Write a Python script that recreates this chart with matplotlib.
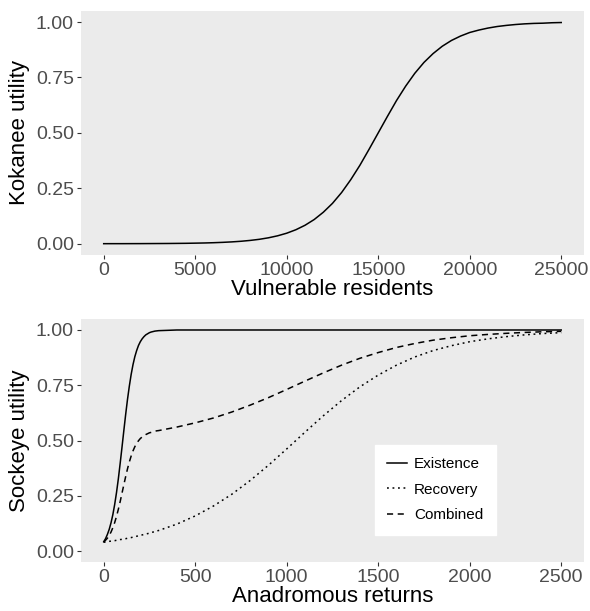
import matplotlib
matplotlib.use("Agg")
import matplotlib.pyplot as plt

plt.rcParams['font.family'] = ['Liberation Sans', 'DejaVu Sans']

# top panel: kokanee utility vs vulnerable residents
residents = [0, 500, 1000, 1500, 2000, 2500, 3000, 3500, 4000, 4500,
             5000, 5500, 6000, 6500, 7000, 7500, 8000, 8500, 9000, 9500,
             10000, 10500, 11000, 11500, 12000, 12500, 13000, 13500, 14000, 14500,
             15000, 15500, 16000, 16500, 17000, 17500, 18000, 18500, 19000, 19500,
             20000, 20500, 21000, 21500, 22000, 22500, 23000, 23500, 24000, 24500,
             25000]
kokanee = [0.0001, 0.0002, 0.0002, 0.0003, 0.0004, 0.0006, 0.0008, 0.0010, 0.0014, 0.0018,
           0.0025, 0.0033, 0.0045, 0.0061, 0.0082, 0.0110, 0.0148, 0.0198, 0.0266, 0.0356,
           0.0474, 0.0630, 0.0832, 0.109, 0.142, 0.182, 0.231, 0.289, 0.354, 0.426,
           0.500, 0.574, 0.646, 0.711, 0.769, 0.818, 0.858, 0.891, 0.917, 0.937,
           0.953, 0.964, 0.973, 0.980, 0.985, 0.989, 0.992, 0.994, 0.995, 0.997,
           0.998]

# bottom panel: sockeye utility vs anadromous returns
returns = [0, 10, 20, 30, 40, 50, 60, 70, 80, 90,
           100, 110, 120, 130, 140, 150, 160, 170, 180, 190,
           200, 210, 220, 230, 240, 250, 260, 270, 280, 290,
           300, 400, 500, 600, 700, 800, 900, 1000, 1100, 1200,
           1300, 1400, 1500, 1600, 1700, 1800, 1900, 2000, 2100, 2200,
           2300, 2400, 2500]
existence = [0.042, 0.056, 0.075, 0.098, 0.128, 0.165, 0.211, 0.265, 0.327, 0.397,
             0.470, 0.545, 0.618, 0.686, 0.746, 0.799, 0.843, 0.879, 0.907, 0.930,
             0.947, 0.960, 0.970, 0.978, 0.983, 0.988, 0.991, 0.993, 0.995, 0.996,
             0.997, 1.000, 1.000, 1.000, 1.000, 1.000, 1.000, 1.000, 1.000, 1.000,
             1.000, 1.000, 1.000, 1.000, 1.000, 1.000, 1.000, 1.000, 1.000, 1.000,
             1.000, 1.000, 1.000]
recovery = [0.040, 0.041, 0.042, 0.044, 0.045, 0.046, 0.047, 0.049, 0.050, 0.052,
            0.053, 0.055, 0.056, 0.058, 0.060, 0.061, 0.063, 0.065, 0.067, 0.069,
            0.071, 0.073, 0.075, 0.077, 0.079, 0.081, 0.084, 0.086, 0.088, 0.091,
            0.093, 0.122, 0.159, 0.204, 0.257, 0.319, 0.388, 0.462, 0.538, 0.612,
            0.681, 0.743, 0.796, 0.841, 0.878, 0.907, 0.929, 0.947, 0.960, 0.970,
            0.978, 0.984, 0.988]
combined = [0.041, 0.049, 0.058, 0.071, 0.086, 0.106, 0.129, 0.157, 0.189, 0.224,
            0.262, 0.300, 0.337, 0.372, 0.403, 0.430, 0.453, 0.472, 0.487, 0.499,
            0.509, 0.516, 0.522, 0.527, 0.531, 0.535, 0.537, 0.540, 0.542, 0.544,
            0.545, 0.561, 0.580, 0.602, 0.629, 0.660, 0.694, 0.731, 0.769, 0.806,
            0.841, 0.872, 0.898, 0.921, 0.939, 0.954, 0.965, 0.974, 0.980, 0.985,
            0.989, 0.992, 0.994]

yticks = [0, 0.25, 0.5, 0.75, 1.0]
ytick_labels = ['0.00', '0.25', '0.50', '0.75', '1.00']

fig = plt.figure(figsize=(5.9, 6.11), dpi=100)
ax1 = fig.add_axes([0.137, 0.583, 0.853, 0.399])
ax2 = fig.add_axes([0.137, 0.080, 0.853, 0.398])


def style(ax):
    ax.set_facecolor('#EBEBEB')
    for s in ax.spines.values():
        s.set_visible(False)
    ax.tick_params(colors='#333333', labelcolor='#4D4D4D', labelsize=14,
                   length=3, width=0.8, pad=2)
    ax.set_yticks(yticks)
    ax.set_yticklabels(ytick_labels)
    ax.set_ylim(-0.05, 1.05)


ax1.plot(residents, kokanee, color='black', lw=1.1)
style(ax1)
ax1.set_xlim(-1250, 26250)
ax1.set_xticks([0, 5000, 10000, 15000, 20000, 25000])
ax1.set_xlabel('Vulnerable residents', fontsize=16, labelpad=0)
ax1.set_ylabel('Kokanee utility', fontsize=16, labelpad=4)

ax2.plot(returns, existence, color='black', lw=1.1, ls='-', label='Existence')
ax2.plot(returns, recovery, color='black', lw=1.1, ls=(0, (1.2, 2.4)), label='Recovery')
ax2.plot(returns, combined, color='black', lw=1.1, ls=(0, (4, 3)), label='Combined')
style(ax2)
ax2.set_xlim(-125, 2625)
ax2.set_xticks([0, 500, 1000, 1500, 2000, 2500])
ax2.set_xlabel('Anadromous returns', fontsize=16, labelpad=0)
ax2.set_ylabel('Sockeye utility', fontsize=16, labelpad=4)

leg = ax2.legend(loc='upper left', bbox_to_anchor=(0.585, 0.481), fontsize=11,
                 frameon=True, fancybox=False, framealpha=1,
                 handlelength=1.3, handletextpad=0.45,
                 borderpad=0.8, labelspacing=0.75, borderaxespad=0)
leg.get_frame().set_facecolor('white')
leg.get_frame().set_edgecolor('white')

fig.savefig('out.png', dpi=100)
